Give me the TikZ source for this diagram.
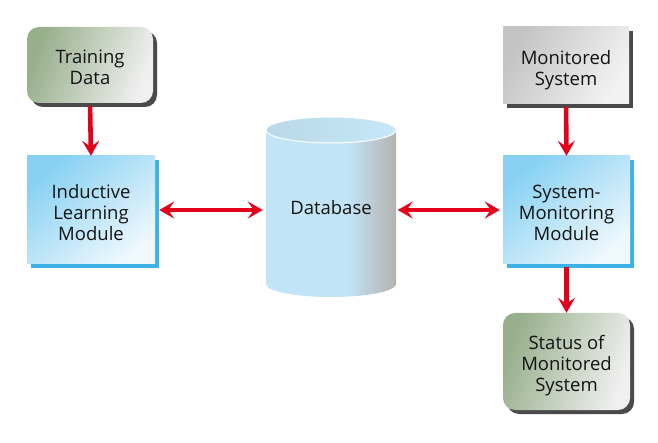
\documentclass[tikz,border=0pt]{standalone}
\usepackage{fontspec}
\setmainfont{Open Sans}
\usetikzlibrary{arrows.meta,shadows}
\definecolor{arrred}{HTML}{E2001A}
\definecolor{txt}{HTML}{141414}
\definecolor{grnA}{HTML}{97AF8B}
\definecolor{grnB}{HTML}{F0F0F0}
\definecolor{bluA}{HTML}{88D1F3}
\definecolor{bluB}{HTML}{EEF8FD}
\definecolor{bluSh}{HTML}{3DB2E6}
\definecolor{gryA}{HTML}{C4C4C4}
\definecolor{gryB}{HTML}{F2F2F2}
\definecolor{darkSh}{HTML}{4A4A4A}
\definecolor{dbblue}{HTML}{C1E5F7}
\definecolor{dbgray}{HTML}{B5B3B1}
\definecolor{dbtopA}{HTML}{B9D9E9}
\definecolor{dbtopB}{HTML}{C6E7F7}
\pgfdeclarehorizontalshading{dbbody}{100bp}{color(0bp)=(dbblue); color(56bp)=(dbblue); color(75bp)=(dbgray); color(100bp)=(dbgray)}
\newcommand{\boxtxt}[1]{\raisebox{-9.5pt}[0pt][0pt]{\begin{tabular}{@{}c@{}}#1\end{tabular}}}
\begin{document}
\begin{tikzpicture}[x=1pt,y=-1pt,
  lbl/.style={align=center, text=txt, inner sep=0pt, font=\fontsize{18.5}{21}\selectfont},
  greenbox/.style={lbl, rounded corners=12pt, left color=grnA, right color=grnB, shading angle=70,
    drop shadow={shadow xshift=4pt, shadow yshift=-4pt, fill=darkSh, opacity=1}},
  graybox/.style={lbl, left color=gryA, right color=gryB, shading angle=60,
    drop shadow={shadow xshift=4pt, shadow yshift=-4pt, fill=darkSh, opacity=1}},
  bluebox/.style={lbl, left color=bluA, right color=bluB, shading angle=40,
    drop shadow={shadow xshift=4pt, shadow yshift=-4pt, fill=bluSh, opacity=1}},
  flow/.style={draw=arrred, line width=4.6pt, -{Stealth[length=15pt,width=17pt,inset=6pt]}},
  flow2/.style={draw=arrred, line width=4.6pt, {Stealth[length=15pt,width=17pt,inset=6pt]}-{Stealth[length=15pt,width=17pt,inset=6pt]}}
]
\useasboundingbox (0,0) rectangle (658,443);

% nodes
\node[greenbox, minimum width=126pt, minimum height=76pt] (td) at (90,65) {\boxtxt{Training\\Data}};
\node[bluebox, minimum width=128pt, minimum height=108pt] (ilm) at (91,210) {\boxtxt{Inductive\\Learning\\Module}};
\node[graybox, minimum width=126pt, minimum height=77pt] (ms) at (566,65.5) {\boxtxt{Monitored\\System}};
\node[bluebox, minimum width=127pt, minimum height=108pt] (smm) at (566.5,210) {\boxtxt{System-\\Monitoring\\Module}};
\node[greenbox, minimum width=127pt, minimum height=97pt] (st) at (566.5,361.5) {\boxtxt{Status of\\Monitored\\System}};

% database cylinder
\shade[shading=dbbody] (266,130) -- (266,284) arc[start angle=180, end angle=360, x radius=65, y radius=-13] -- (396,130) -- cycle;
\shade[left color=dbtopA, right color=dbtopB, shading angle=90, draw=white, line width=1pt] (331,130) ellipse[x radius=65, y radius=13];
\node[lbl, minimum width=130pt, minimum height=40pt] (db) at (331,208) {Database};

% connectors
\draw[flow, shorten <=3pt] (td.south) -- (ilm.north);
\draw[flow, shorten <=3pt] (ms.south) -- (smm.north);
\draw[flow, shorten <=3pt] (smm.south) -- (st.north);
\draw[flow2, shorten <=4pt, shorten >=3pt] (ilm.east |- 0,210) -- (db.west |- 0,210);
\draw[flow2, shorten <=1.5pt, shorten >=3pt] (db.east |- 0,210) -- (smm.west |- 0,210);
\end{tikzpicture}
\end{document}
